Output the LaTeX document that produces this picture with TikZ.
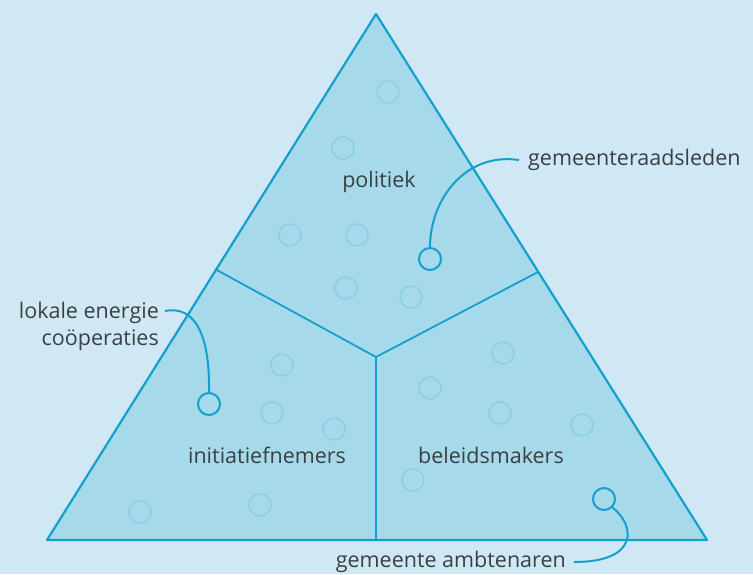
\documentclass[tikz,border=0pt]{standalone}
\usepackage{fontspec}
\setmainfont{Open Sans}
\definecolor{bgblue}{HTML}{CFE8F3}
\definecolor{fillblue}{HTML}{A6D9E9}
\definecolor{lineblue}{HTML}{14A0CF}
\definecolor{faintblue}{HTML}{8ACFE5}
\definecolor{txtgrey}{HTML}{3A4044}
\tikzset{
  dot/.style={circle,draw=lineblue,line width=2pt,minimum size=22pt,inner sep=0pt},
  ghost/.style={circle,draw=faintblue,line width=1.5pt,minimum size=22pt,inner sep=0pt},
  lbl/.style={text=txtgrey,font=\fontsize{21.5}{27}\selectfont,inner sep=0pt},
  link/.style={draw=lineblue,line width=2pt}
}
\begin{document}
\begin{tikzpicture}[x=1pt,y=-1pt]
\fill[bgblue] (0,0) rectangle (753,574);
\useasboundingbox (0,0) rectangle (753,574);

% triangle
\coordinate (top) at (376,14);
\coordinate (bl) at (47,540);
\coordinate (br) at (707,540);
\coordinate (ml) at (215,269);
\coordinate (mr) at (538,272);
\coordinate (mid) at (376,357);
\coordinate (mb) at (376,540);
\draw[fill=fillblue,draw=lineblue,line width=2.2pt,line join=round] (top) -- (br) -- (bl) -- cycle;
\draw[lineblue,line width=1.8pt] (ml) -- (mid) -- (mr);
\draw[lineblue,line width=1.8pt] (mid) -- (mb);

% faint circles
\foreach \px/\py [count=\i] in {388/92,343/148,290/235,357/235,346/288,411/297,
  282/365,272/413,334/429,140/512,260/505,
  430/388,503/353,500/413,582/425,413/480}
  \node[ghost] (g\i) at (\px,\py) {};

% group names
\node[lbl] (politiek) at (379,182) {politiek};
\node[lbl] (initiatief) at (267,455) {initiatiefnemers};
\node[lbl] (beleid) at (491,455) {beleidsmakers};

% marked circles
\node[dot] (raad) at (430,259) {};
\node[dot] (coop) at (209,404) {};
\node[dot] (ambt) at (604,499) {};

% outside labels
\node[lbl,anchor=west] (lraad) at (528,160) {gemeenteraadsleden};
\node[lbl,anchor=east,align=right] (lcoop) at (159,326) {lokale energie\\coöperaties};
\node[lbl,anchor=east] (lambt) at (566,562) {gemeente ambtenaren};

% connectors
\draw[link] (raad.north) .. controls (430,200) and (465,152) .. ([xshift=-9pt]lraad.west);
\draw[link] ([xshift=6pt,yshift=15pt]lcoop.east) .. controls (195,305) and (210,335) .. (coop.north);
\draw[link] (ambt.south east) .. controls (635,525) and (640,562) .. ([xshift=8pt]lambt.east);
\end{tikzpicture}
\end{document}
